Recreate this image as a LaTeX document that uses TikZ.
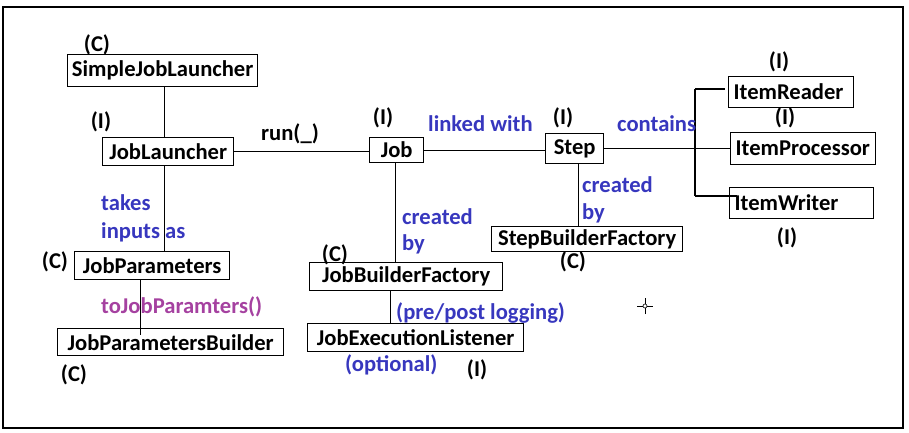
\documentclass[tikz,border=0pt]{standalone}
\usepackage{fontspec}
\setmainfont{Carlito}
\definecolor{lblue}{RGB}{55,55,190}
\definecolor{lpurple}{RGB}{165,65,160}
\tikzset{
  every node/.style={font=\fontsize{22.6}{25}\selectfont\bfseries},
  box/.style={draw, line width=1.3pt, inner sep=0pt, anchor=north west},
  lbox/.style={draw, line width=1.3pt, inner xsep=5pt, inner ysep=0pt, anchor=north west, align=left},
  tag/.style={inner sep=0pt},
  bl/.style={text=lblue, inner sep=0pt, anchor=west},
  pl/.style={text=lpurple, inner sep=0pt, anchor=west},
  conn/.style={line width=1.3pt},
}
\begin{document}
\begin{tikzpicture}[x=1pt,y=-1pt]
\useasboundingbox (0,0) rectangle (909,433);
\draw[line width=1.4pt] (3,7) rectangle (903,428);

% boxes
\node[box, minimum width=190pt, minimum height=32pt] (sjl) at (67,54) {SimpleJobLauncher};
\node[box, minimum width=131pt, minimum height=28pt] (jl) at (102,137) {JobLauncher};
\node[box, minimum width=155pt, minimum height=28pt] (jp) at (74,251) {JobParameters};
\node[box, minimum width=226pt, minimum height=27pt] (jpb) at (57,328) {JobParametersBuilder};
\node[box, minimum width=54pt, minimum height=25pt] (job) at (369,137) {Job};
\node[box, minimum width=58pt, minimum height=30pt] (step) at (545,133) {Step};
\node[box, minimum width=193pt, minimum height=28pt] (jbf) at (309,262) {JobBuilderFactory};
\node[box, minimum width=216pt, minimum height=28pt] (jel) at (307,323) {JobExecutionListener};
\node[box, minimum width=191pt, minimum height=25pt] (sbf) at (491,226) {StepBuilderFactory};
\node[lbox, text width=115pt, minimum height=31pt] (ir) at (728,76) {ItemReader};
\node[lbox, text width=135pt, minimum height=32pt] (ip) at (730,132) {ItemProcessor};
\node[lbox, text width=134pt, minimum height=31pt] (iw) at (729,187) {ItemWriter};

% connectors
\draw[conn] ([xshift=-3.5pt]jl.north) -- ([xshift=-3.5pt]jl.north |- sjl.south);
\draw[conn] (jl.east) -- (jl.east -| job.west);
\draw[conn] (job.east) -- (job.east -| step.west);
\draw[conn] (step.east) -- (ip.west);
\coordinate (bt) at (695,89);
\coordinate (bb) at (695,196);
\draw[conn] (bt) -- (bb);
\draw[conn] (bt) -- ([xshift=-3pt]bt -| ir.west);
\draw[conn] (bb) -- ([xshift=8pt]bb -| iw.west);
\draw[conn] ([xshift=-3.5pt]jl.south) -- ([xshift=-3.5pt]jl.south |- jp.north);
\draw[conn] ([xshift=-11.5pt]jp.south) -- ([xshift=-11.5pt,yshift=-7pt]jp.south |- jpb.north);
\draw[conn] ([xshift=-1pt]job.south) -- ([xshift=-1pt]job.south |- jbf.north);
\draw[conn] ([xshift=-15.5pt]jbf.south) -- ([xshift=-15.5pt]jbf.south |- jel.north);
\draw[conn] ([xshift=4pt]step.south) -- ([xshift=4pt]step.south |- sbf.north);

% type tags
\node[tag] (t1) at (97,45) {(C)};
\node[tag] (t2) at (101,122) {(I)};
\node[tag] (t3) at (383,118) {(I)};
\node[tag] (t4) at (563,118) {(I)};
\node[tag] (t5) at (779,62) {(I)};
\node[tag] (t6) at (785,118) {(I)};
\node[tag] (t7) at (787,238) {(I)};
\node[tag] (t8) at (55,262) {(C)};
\node[tag] (t9) at (74,375) {(C)};
\node[tag] (t10) at (335,255) {(C)};
\node[tag] (t11) at (573,262) {(C)};
\node[tag] (t12) at (477,370) {(I)};
\node[tag] (run) at (290,134) {run(\_)};

% relation labels
\node[bl] (lw) at (428,124) {linked with};
\node[bl] (ct) at (617,124) {contains};
\node[bl] (tk1) at (101,203) {takes};
\node[bl] (tk2) at (101,232) {inputs as};
\node[bl] (cb1) at (402,217) {created};
\node[bl] (cb2) at (402,244) {by};
\node[bl] (cb3) at (582,185) {created};
\node[bl] (cb4) at (582,213) {by};
\node[bl] (pp) at (396,313) {(pre/post logging)};
\node[bl] (op) at (345,365) {(optional)};
\node[pl] (tj) at (101,307) {toJobParamters()};

% cursor
\coordinate (cur) at (645,306);
\draw[line width=0.6pt] (cur) circle (2pt);
\draw[line width=0.6pt] ([xshift=-8pt]cur) -- ([xshift=-2pt]cur);
\draw[line width=0.6pt] ([xshift=2pt]cur) -- ([xshift=8pt]cur);
\draw[line width=0.6pt] ([yshift=-8pt]cur) -- ([yshift=-2pt]cur);
\draw[line width=0.6pt] ([yshift=2pt]cur) -- ([yshift=8pt]cur);
\end{tikzpicture}
\end{document}
